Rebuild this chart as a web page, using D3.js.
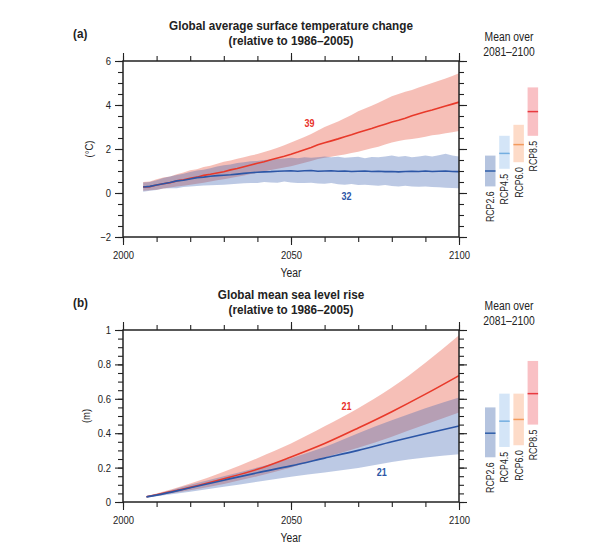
<!DOCTYPE html>
<html><head><meta charset="utf-8">
<script src="https://cdn.jsdelivr.net/npm/d3@7"></script>
<style>
body{margin:0;background:#fff;}
text{font-family:"Liberation Sans Narrow","Liberation Sans",Arial,sans-serif;fill:#222;}
</style></head>
<body><svg id="c" width="602" height="550"></svg>
<script>
// ---------- Panel (a): temperature ----------
const tYears = [2006,2008,2010,2012,2014,2016,2018,2020,2022,2024,2026,2028,2030,2032,2034,2036,2038,2040,2042,2044,2046,2048,2050,2052,2054,2056,2058,2060,2062,2064,2066,2068,2070,2072,2074,2076,2078,2080,2082,2084,2086,2088,2090,2092,2094,2096,2098,2100];
const t85Mean = [0.28,0.29,0.36,0.42,0.47,0.55,0.60,0.67,0.72,0.80,0.85,0.91,0.97,1.05,1.11,1.19,1.27,1.35,1.42,1.51,1.59,1.67,1.76,1.86,1.97,2.07,2.19,2.28,2.37,2.46,2.56,2.65,2.75,2.84,2.93,3.03,3.13,3.23,3.31,3.40,3.51,3.60,3.69,3.77,3.86,3.95,4.04,4.13];
const t85High = [0.50,0.52,0.62,0.70,0.75,0.85,0.93,1.03,1.08,1.18,1.24,1.33,1.42,1.48,1.56,1.62,1.70,1.77,1.86,1.95,2.06,2.17,2.29,2.42,2.55,2.68,2.84,3.00,3.12,3.25,3.40,3.55,3.72,3.84,3.97,4.10,4.25,4.40,4.50,4.60,4.68,4.80,4.90,5.00,5.10,5.20,5.32,5.44];
const t85Low  = [0.10,0.12,0.15,0.20,0.25,0.30,0.33,0.38,0.42,0.47,0.52,0.58,0.62,0.68,0.74,0.80,0.86,0.92,0.98,1.04,1.10,1.16,1.22,1.30,1.38,1.46,1.54,1.60,1.65,1.70,1.75,1.82,1.88,1.95,2.03,2.10,2.20,2.30,2.36,2.42,2.46,2.50,2.56,2.62,2.66,2.72,2.76,2.82];
const t26Mean = [0.27,0.30,0.36,0.42,0.48,0.55,0.58,0.64,0.70,0.72,0.76,0.79,0.81,0.83,0.86,0.89,0.92,0.94,0.96,0.97,0.99,1.00,1.01,0.99,1.01,1.02,0.99,1.00,1.01,0.99,1.00,0.98,0.99,1.00,0.98,0.99,0.97,0.98,0.96,0.98,0.99,0.98,1.00,0.98,0.99,1.00,0.98,0.97];
const t26High = [0.48,0.50,0.58,0.68,0.75,0.82,0.88,0.95,1.02,1.06,1.12,1.20,1.26,1.30,1.36,1.40,1.44,1.46,1.50,1.52,1.55,1.57,1.60,1.58,1.62,1.60,1.63,1.66,1.62,1.65,1.60,1.63,1.65,1.58,1.64,1.62,1.66,1.70,1.65,1.68,1.63,1.66,1.70,1.66,1.72,1.78,1.70,1.66];
const t26Low  = [0.06,0.10,0.14,0.20,0.22,0.22,0.27,0.30,0.32,0.34,0.35,0.36,0.38,0.40,0.42,0.44,0.45,0.46,0.50,0.48,0.47,0.52,0.48,0.46,0.45,0.47,0.43,0.42,0.45,0.40,0.38,0.41,0.36,0.38,0.35,0.33,0.36,0.32,0.30,0.33,0.29,0.28,0.30,0.27,0.26,0.24,0.23,0.22];

// ---------- Panel (b): sea level ----------
const sYears = [2007,2010,2020,2030,2040,2050,2060,2070,2080,2090,2100];
const s85Mean = [0.030,0.042,0.085,0.135,0.190,0.262,0.340,0.430,0.525,0.627,0.735];
const s85High = [0.035,0.050,0.107,0.176,0.255,0.340,0.440,0.545,0.665,0.810,0.970];
const s85Low  = [0.028,0.037,0.068,0.105,0.150,0.200,0.258,0.315,0.380,0.450,0.520];
const s26Mean = [0.030,0.040,0.083,0.127,0.170,0.210,0.255,0.300,0.350,0.397,0.442];
const s26High = [0.035,0.047,0.100,0.150,0.200,0.255,0.320,0.400,0.475,0.545,0.607];
const s26Low  = [0.025,0.034,0.060,0.088,0.118,0.147,0.172,0.198,0.232,0.258,0.277];

// ---------- Mean over 2081–2100 bars ----------
const rcpNames = ["RCP2.6","RCP4.5","RCP6.0","RCP8.5"];
const tempBarMean = [1.0,1.8,2.2,3.7];
const tempBarLow  = [0.3,1.1,1.4,2.6];
const tempBarHigh = [1.7,2.6,3.1,4.8];
const slrBarMean = [0.40,0.47,0.48,0.63];
const slrBarLow  = [0.26,0.32,0.33,0.45];
const slrBarHigh = [0.55,0.63,0.63,0.82];

const xTicksMajor = [2000,2050,2100];
const tempTicks = [-2,0,2,4,6];
const slrTicks = [0,0.2,0.4,0.6,0.8,1];

// ---------- styles ----------
const redBand = "rgba(232,88,66,0.38)", blueBand = "rgba(58,98,176,0.34)";
const redLine = "#e8392a", blueLine = "#2c56a6";
const barFill = ["rgba(60,100,170,0.38)","rgba(120,175,230,0.32)","rgba(250,160,110,0.38)","rgba(240,90,100,0.38)"];
const barLine = ["#2f5ea8","#74aee0","#f39a5c","#e83a40"];

const svg = d3.select("#c");
const x = d3.scaleLinear().domain([2000,2100]).range([123,459]);

function drawPanel(opts){
  const {y, yTicks, yMinor, fmt, top, bottom, title, letter, ylabel, series, bars, labels} = opts;
  const g = svg.append("g");
  series.forEach(s=>{
    const area = d3.area().x((d,i)=>x(s.years[i])).y0((d,i)=>y(s.low[i])).y1((d,i)=>y(s.high[i])).curve(s.curve);
    g.append("path").datum(s.years).attr("d",area).attr("fill",s.band);
  });
  series.forEach(s=>{
    const line = d3.line().x((d,i)=>x(s.years[i])).y((d,i)=>y(s.mean[i])).curve(s.curve);
    g.append("path").datum(s.years).attr("d",line).attr("fill","none").attr("stroke",s.line).attr("stroke-width",1.6);
  });
  const xMinor = d3.range(2000,2101,10);
  const axes = [
    [d3.axisBottom(x).tickValues(xMinor).tickSize(5).tickFormat(""), `translate(0,${bottom})`],
    [d3.axisBottom(x).tickValues(xTicksMajor).tickSize(8).tickPadding(6).tickFormat(d3.format("d")), `translate(0,${bottom})`],
    [d3.axisTop(x).tickValues(xMinor).tickSize(5).tickFormat(""), `translate(0,${top})`],
    [d3.axisTop(x).tickValues(xTicksMajor).tickSize(8).tickFormat(""), `translate(0,${top})`],
    [d3.axisLeft(y).tickValues(yMinor).tickSize(5).tickFormat(""), `translate(123,0)`],
    [d3.axisLeft(y).tickValues(yTicks).tickSize(8).tickPadding(4).tickFormat(fmt), `translate(123,0)`],
    [d3.axisRight(y).tickValues(yMinor).tickSize(5).tickFormat(""), `translate(459,0)`],
    [d3.axisRight(y).tickValues(yTicks).tickSize(8).tickFormat(""), `translate(459,0)`]
  ];
  axes.forEach(([ax,tr])=>{
    const a = g.append("g").attr("transform",tr).call(ax);
    a.select(".domain").remove();
    a.selectAll("line").attr("stroke","#222").attr("stroke-width",1.1);
    a.selectAll("text").attr("font-size",11).attr("fill","#222").attr("data-f",0.86)
      .style("font-family",'"Liberation Sans Narrow","Liberation Sans",Arial,sans-serif');
  });
  g.append("rect").attr("x",123).attr("y",top).attr("width",336).attr("height",bottom-top)
    .attr("fill","none").attr("stroke","#222").attr("stroke-width",1.5);
  // titles
  g.append("text").attr("x",291).attr("y",top-31).attr("text-anchor","middle").attr("font-size",13).attr("font-weight","bold").attr("data-f",0.9).text(title[0]);
  g.append("text").attr("x",291).attr("y",top-16).attr("text-anchor","middle").attr("font-size",13).attr("font-weight","bold").attr("data-f",0.9).text(title[1]);
  g.append("text").attr("x",73).attr("y",top-23).attr("font-size",13).attr("font-weight","bold").attr("data-f",0.9).text(letter);
  g.append("text").attr("x",291).attr("y",bottom+40).attr("text-anchor","middle").attr("font-size",12).attr("data-f",0.86).text("Year");
  g.append("text").attr("transform",`translate(${opts.ylabelX},${(top+bottom)/2}) rotate(-90)`).attr("text-anchor","middle").attr("dy","0.35em").attr("font-size",11).attr("data-f",0.86).text(ylabel);
  labels.forEach(l=>{
    g.append("text").attr("x",x(l.year)).attr("y",y(l.val)).attr("text-anchor","middle").attr("dy","0.35em")
      .attr("font-size",10).attr("font-weight","bold").attr("data-f",0.9).style("fill",l.color).text(l.text);
  });
  // right bars
  g.append("text").attr("x",509).attr("y",top-20).attr("text-anchor","middle").attr("font-size",12).attr("data-f",0.86).text("Mean over");
  g.append("text").attr("x",509).attr("y",top-5).attr("text-anchor","middle").attr("font-size",12).attr("data-f",0.86).text("2081\u20132100");
  rcpNames.forEach((n,i)=>{
    const bx = 485 + i*14.2, bw = 10.5;
    g.append("rect").attr("x",bx).attr("width",bw).attr("y",y(bars.high[i])).attr("height",y(bars.low[i])-y(bars.high[i])).attr("fill",barFill[i]);
    g.append("line").attr("x1",bx).attr("x2",bx+bw).attr("y1",y(bars.mean[i])).attr("y2",y(bars.mean[i])).attr("stroke",barLine[i]).attr("stroke-width",1.5);
    g.append("text").attr("transform",`translate(${bx+bw/2},${y(bars.low[i])+5}) rotate(-90)`).attr("text-anchor","end").attr("dy","0.35em").attr("font-size",11.5).attr("data-f",0.76).text(n);
  });
}

const yA = d3.scaleLinear().domain([-2,6]).range([237,61]);
drawPanel({
  y:yA, yTicks:tempTicks, yMinor:d3.range(-2,6.01,0.5), fmt:d=>d<0?"\u2212"+Math.abs(d):d,
  top:61, bottom:237, title:["Global average surface temperature change","(relative to 1986\u20132005)"], letter:"(a)",
  ylabel:"(\u00B0C)", ylabelX:89,
  series:[
    {years:tYears, mean:t85Mean, high:t85High, low:t85Low, band:redBand, line:redLine, curve:d3.curveLinear},
    {years:tYears, mean:t26Mean, high:t26High, low:t26Low, band:blueBand, line:blueLine, curve:d3.curveLinear}
  ],
  bars:{mean:tempBarMean, low:tempBarLow, high:tempBarHigh},
  labels:[{text:"39",year:2055.5,val:3.15,color:"#e8312a"},{text:"32",year:2066.5,val:-0.18,color:"#2c56a6"}]
});

const yB = d3.scaleLinear().domain([0,1]).range([502,330]);
drawPanel({
  y:yB, yTicks:slrTicks, yMinor:d3.range(0,1.001,0.05), fmt:d=>d===0||d===1?d3.format("d")(d):d3.format(".1f")(d),
  top:330, bottom:502, title:["Global mean sea level rise","(relative to 1986\u20132005)"], letter:"(b)",
  ylabel:"(m)", ylabelX:86,
  series:[
    {years:sYears, mean:s85Mean, high:s85High, low:s85Low, band:redBand, line:redLine, curve:d3.curveMonotoneX},
    {years:sYears, mean:s26Mean, high:s26High, low:s26Low, band:blueBand, line:blueLine, curve:d3.curveMonotoneX}
  ],
  bars:{mean:slrBarMean, low:slrBarLow, high:slrBarHigh},
  labels:[{text:"21",year:2066.5,val:0.555,color:"#e8312a"},{text:"21",year:2077,val:0.17,color:"#2c56a6"}]
});

// condense text horizontally to mimic the narrow typeface of the original
svg.selectAll("text").each(function(){
  const f = +this.getAttribute("data-f");
  if (f && f < 1 && this.textContent.length){
    const w = this.getComputedTextLength();
    this.setAttribute("textLength", (w*f).toFixed(2));
    this.setAttribute("lengthAdjust","spacingAndGlyphs");
  }
});
</script></body></html>
